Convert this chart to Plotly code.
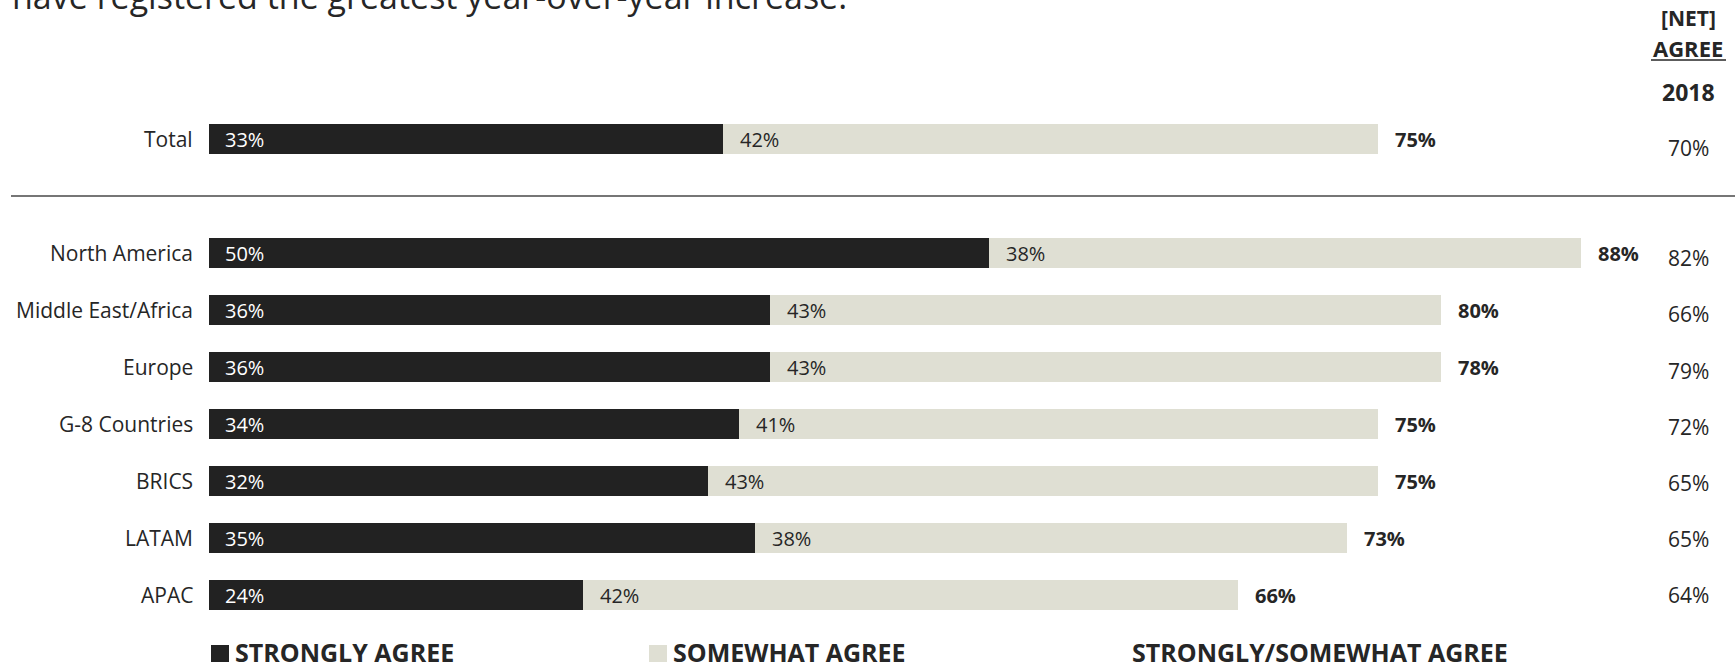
import plotly.graph_objects as go

# ---------------- data ----------------
regions = ["Total", "North America", "Middle East/Africa", "Europe",
           "G-8 Countries", "BRICS", "LATAM", "APAC"]
strongly = [33, 50, 36, 36, 34, 32, 35, 24]
somewhat = [42, 38, 43, 43, 41, 43, 38, 42]
net_agree = [75, 88, 80, 78, 75, 75, 73, 66]
net_2018 = [70, 82, 66, 79, 72, 65, 65, 64]
row_pos = [0, 2, 3, 4, 5, 6, 7, 8]
legend_labels = ["STRONGLY AGREE", "SOMEWHAT AGREE", "STRONGLY/SOMEWHAT AGREE"]
title_text = "have registered the greatest year-over-year increase."
header_lines = ["[NET]", "AGREE", "2018"]

# ---------------- style ----------------
W, H = 1735, 664
DARK = "#222222"
LIGHT = "#DFDFD3"
TXT = "#262626"
FONT = "Open Sans"

def px(x):
    return x / W

def py(y):
    return 1 - y / H

fig = go.Figure()
fig.add_trace(go.Bar(y=row_pos, x=strongly, orientation="h", width=0.526,
                     marker=dict(color=DARK, line=dict(width=0)),
                     name=legend_labels[0], hoverinfo="skip"))
fig.add_trace(go.Bar(y=row_pos, x=somewhat, orientation="h", width=0.526,
                     marker=dict(color=LIGHT, line=dict(width=0)),
                     name=legend_labels[1], hoverinfo="skip"))

ann = []
for i, (r, s, m, n, p18, yp) in enumerate(zip(regions, strongly, somewhat,
                                               net_agree, net_2018, row_pos)):
    ann.append(dict(x=0, y=yp, xref="x", yref="y", text=r, showarrow=False,
                    xanchor="right", xshift=-14,
                    font=dict(family=FONT, size=21, color=TXT)))
    ann.append(dict(x=0, y=yp, xref="x", yref="y", text=f"{s}%", showarrow=False,
                    xanchor="left", xshift=14,
                    font=dict(family=FONT, size=20, color="white")))
    ann.append(dict(x=s, y=yp, xref="x", yref="y", text=f"{m}%", showarrow=False,
                    xanchor="left", xshift=15,
                    font=dict(family=FONT, size=20, color=TXT)))
    ann.append(dict(x=s + m, y=yp, xref="x", yref="y", text=f"<b>{n}%</b>",
                    showarrow=False, xanchor="left", xshift=15,
                    font=dict(family=FONT, size=20, color=TXT)))
    shift = -9 if i == 0 else -(5 - 5 * (i - 1) / 6)
    ann.append(dict(x=px(1688), y=yp, xref="paper", yref="y", text=f"{p18}%",
                    showarrow=False, xanchor="center", yshift=shift,
                    font=dict(family=FONT, size=21, color=TXT)))

# header of right column
for txt, yy, fs in zip(header_lines, [18, 48, 92], [21, 22, 23]):
    ann.append(dict(x=px(1688), y=py(yy), xref="paper", yref="paper",
                    text=f"<b>{txt}</b>", showarrow=False, xanchor="center",
                    yanchor="middle", font=dict(family=FONT, size=fs, color=TXT)))

# title (cut off at top)
ann.append(dict(x=px(10), y=py(21), xref="paper", yref="paper", text=title_text,
                showarrow=False, xanchor="left", yanchor="bottom",
                font=dict(family=FONT, size=34, color=TXT)))

# legend texts
for txt, xx in zip(legend_labels, [233, 671, 1130]):
    ann.append(dict(x=px(xx), y=py(652), xref="paper", yref="paper",
                    text=f"<b>{txt}</b>", showarrow=False, xanchor="left",
                    yanchor="middle", font=dict(family=FONT, size=25, color=TXT)))

shapes = [
    dict(type="line", xref="paper", yref="y", x0=px(11), x1=1, y0=1, y1=1,
         line=dict(color="#767676", width=2)),
    dict(type="line", xref="paper", yref="paper", x0=px(1651), x1=px(1726),
         y0=py(60), y1=py(60), line=dict(color=TXT, width=1.5)),
    dict(type="rect", xref="paper", yref="paper", x0=px(211), x1=px(229),
         y0=py(645), y1=py(662), fillcolor=DARK, line=dict(width=0)),
    dict(type="rect", xref="paper", yref="paper", x0=px(649), x1=px(667),
         y0=py(645), y1=py(662), fillcolor=LIGHT, line=dict(width=0)),
]

x_scale = 15.59
y_scale = 57.06
fig.update_layout(
    width=W, height=H,
    margin=dict(l=0, r=0, t=0, b=0, pad=0),
    paper_bgcolor="white", plot_bgcolor="white",
    barmode="stack", showlegend=False,
    xaxis=dict(range=[-209 / x_scale, (W - 209) / x_scale], visible=False,
               fixedrange=True),
    yaxis=dict(range=[(H - 139) / y_scale, -139 / y_scale], visible=False,
               fixedrange=True),
    annotations=ann, shapes=shapes,
    font=dict(family=FONT),
)

fig.write_html("out.html", config={"displayModeBar": False},
               post_script="document.body.style.margin='0';"
                           "document.body.style.overflow='hidden';")
